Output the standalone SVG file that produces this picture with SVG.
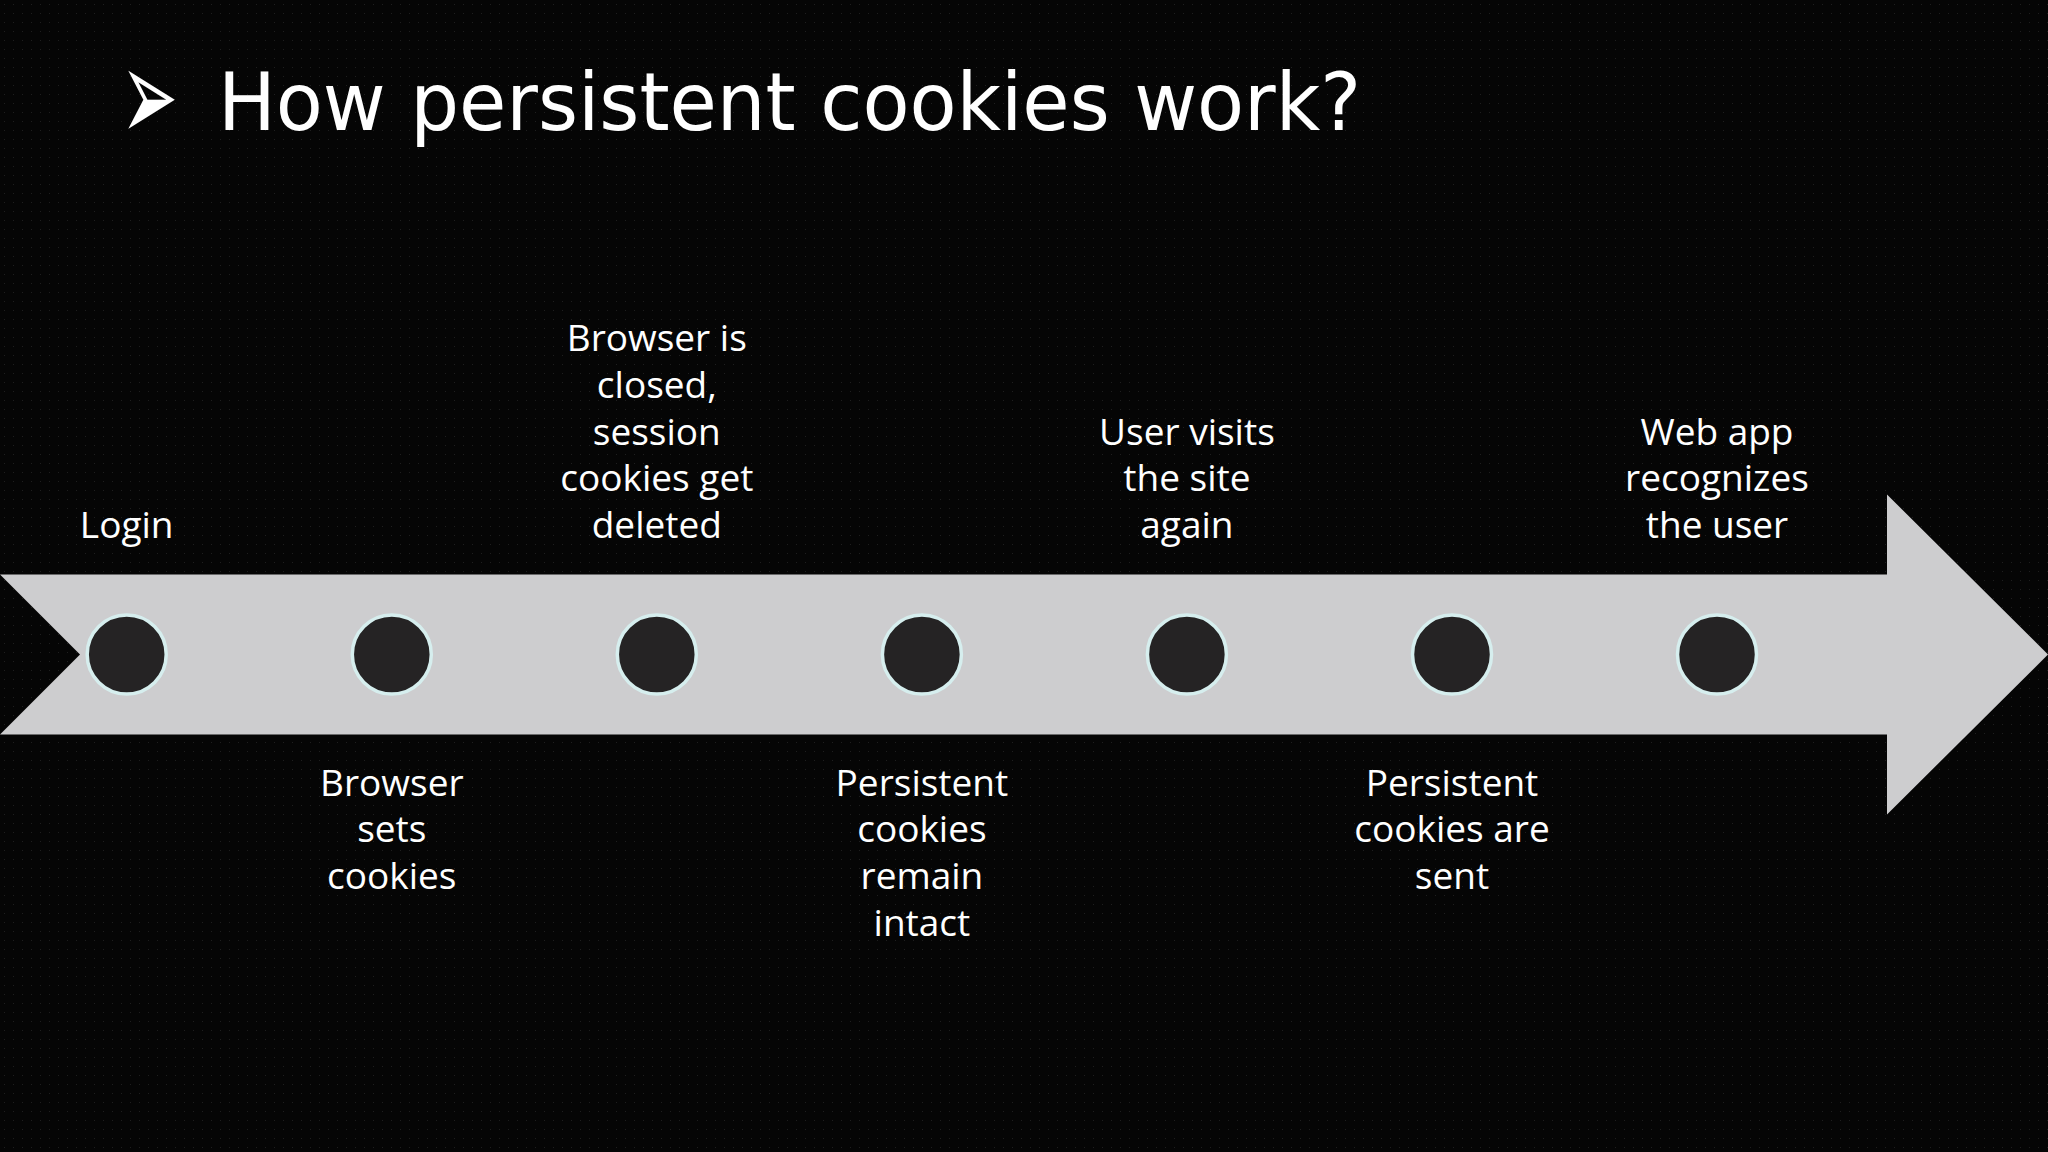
<svg xmlns="http://www.w3.org/2000/svg" width="2048" height="1152" viewBox="0 0 2048 1152">
  <defs>
    <pattern id="dots" x="0" y="0" width="9" height="9" patternUnits="userSpaceOnUse">
      <rect x="4" y="4" width="1" height="1" fill="#1e1e1e"/>
    </pattern>
    <style>
      .lbl { font-family: "Open Sans", "Noto Sans", "DejaVu Sans", sans-serif; font-size: 37px; fill: #ffffff; text-anchor: middle; }
      .title { font-family: "DejaVu Sans Condensed", "DejaVu Sans", sans-serif; font-size: 80px; fill: #ffffff; }
      .dot { fill: #252324; stroke: #d6eeee; stroke-width: 3.5; }
    </style>
  </defs>
  <rect width="2048" height="1152" fill="#050505"/>
  <rect width="2048" height="1152" fill="url(#dots)"/>

  <g id="title">
    <text class="title" font-size="62" transform="translate(120.7,141) scale(0.95,1.65)">➢</text>
    <text class="title" x="218" y="130" textLength="1143" lengthAdjust="spacingAndGlyphs">How persistent cookies work?</text>
  </g>

  <g id="timeline-arrow">
    <polygon points="0,574.5 1887,574.5 1887,494.5 2048,654.5 1887,814.5 1887,734.5 0,734.5 80,654.5" fill="#cdcdcf"/>
  </g>

  <g id="connectors"></g>

  <g id="node-login">
    <circle class="dot" cx="126.7" cy="654.5" r="39.5"/>
    <text class="lbl" x="126.7" y="538">Login</text>
  </g>

  <g id="node-browser-sets">
    <circle class="dot" cx="391.8" cy="654.5" r="39.5"/>
    <text class="lbl" x="391.8" y="795.5">Browser</text>
    <text class="lbl" x="391.8" y="842.2">sets</text>
    <text class="lbl" x="391.8" y="888.9">cookies</text>
  </g>

  <g id="node-browser-closed">
    <circle class="dot" cx="656.8" cy="654.5" r="39.5"/>
    <text class="lbl" x="656.8" y="351.2">Browser is</text>
    <text class="lbl" x="656.8" y="397.9">closed,</text>
    <text class="lbl" x="656.8" y="444.6">session</text>
    <text class="lbl" x="656.8" y="491.3">cookies get</text>
    <text class="lbl" x="656.8" y="538">deleted</text>
  </g>

  <g id="node-persistent-remain">
    <circle class="dot" cx="921.9" cy="654.5" r="39.5"/>
    <text class="lbl" x="921.9" y="795.5">Persistent</text>
    <text class="lbl" x="921.9" y="842.2">cookies</text>
    <text class="lbl" x="921.9" y="888.9">remain</text>
    <text class="lbl" x="921.9" y="935.6">intact</text>
  </g>

  <g id="node-user-visits">
    <circle class="dot" cx="1186.9" cy="654.5" r="39.5"/>
    <text class="lbl" x="1186.9" y="444.6">User visits</text>
    <text class="lbl" x="1186.9" y="491.3">the site</text>
    <text class="lbl" x="1186.9" y="538">again</text>
  </g>

  <g id="node-cookies-sent">
    <circle class="dot" cx="1452" cy="654.5" r="39.5"/>
    <text class="lbl" x="1452" y="795.5">Persistent</text>
    <text class="lbl" x="1452" y="842.2">cookies are</text>
    <text class="lbl" x="1452" y="888.9">sent</text>
  </g>

  <g id="node-web-app">
    <circle class="dot" cx="1717" cy="654.5" r="39.5"/>
    <text class="lbl" x="1717" y="444.6">Web app</text>
    <text class="lbl" x="1717" y="491.3">recognizes</text>
    <text class="lbl" x="1717" y="538">the user</text>
  </g>
</svg>
